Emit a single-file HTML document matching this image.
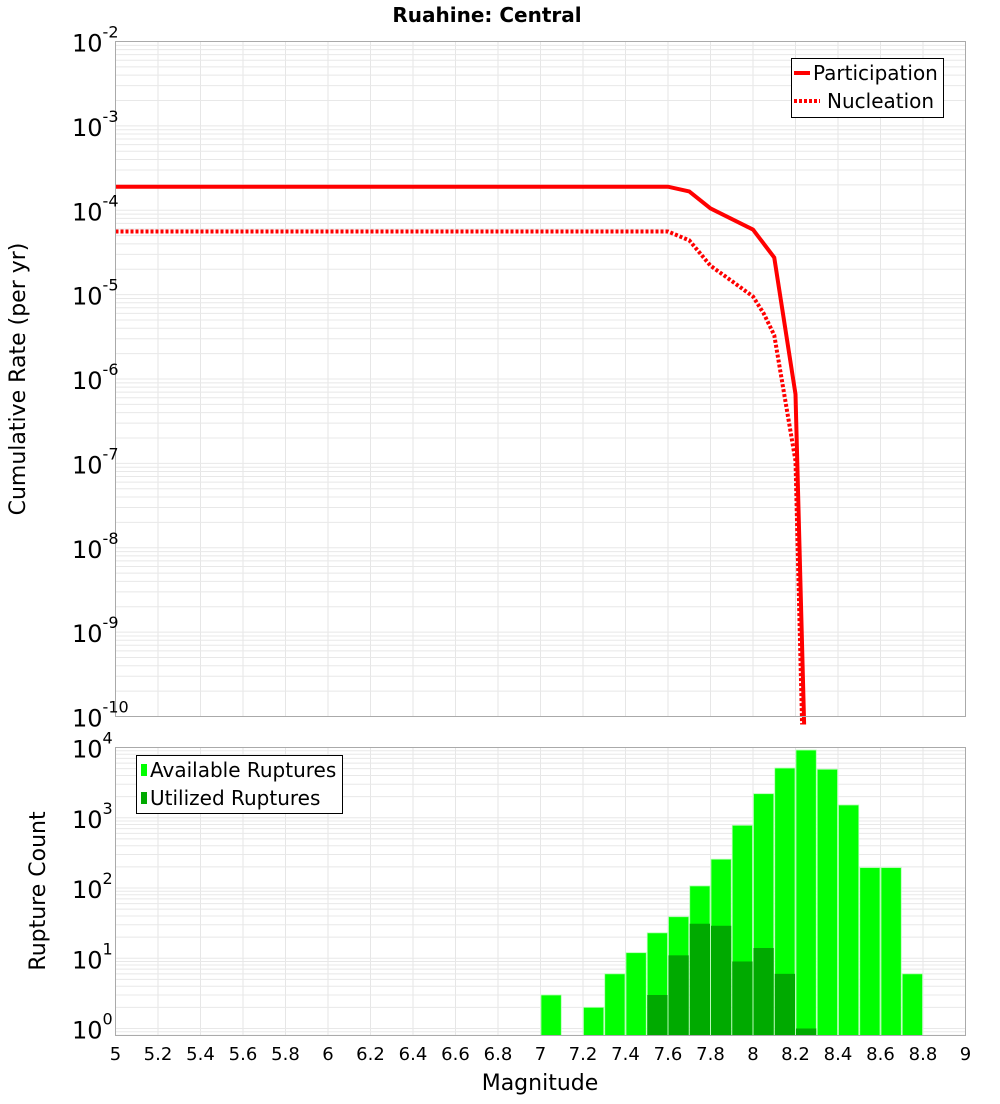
<!DOCTYPE html>
<html><head><meta charset="utf-8"><style>
body{margin:0;background:#fff;font-family:"DejaVu Sans","Liberation Sans",sans-serif}
svg text{font-family:"DejaVu Sans","Liberation Sans",sans-serif}
</style></head><body>
<svg id="c" width="1000" height="1100" xmlns="http://www.w3.org/2000/svg">
<g id="topG"></g>
<g id="botG"></g>
<text x="487" y="22" font-size="20" font-weight="bold" text-anchor="middle">Ruahine: Central</text>
<text transform="translate(25,379) rotate(-90)" font-size="22" text-anchor="middle">Cumulative Rate (per yr)</text>
<text transform="translate(45,891) rotate(-90)" font-size="22" text-anchor="middle">Rupture Count</text>
<text x="540" y="1090" font-size="22" text-anchor="middle">Magnitude</text>
<g>
<rect x="791.5" y="58.5" width="152" height="59" fill="#fff" stroke="#000"/>
<line x1="794" y1="73" x2="810" y2="73" stroke="#f00" stroke-width="4"/>
<text x="813" y="80" font-size="20">Participation</text>
<line x1="794" y1="101" x2="820" y2="101" stroke="#f00" stroke-width="4" stroke-dasharray="3,2"/>
<text x="827" y="108" font-size="20">Nucleation</text>
</g>
<g>
<rect x="136.5" y="755.5" width="206" height="58" fill="#fff" stroke="#000"/>
<rect x="141" y="764" width="6" height="12" fill="#00ff00"/>
<text x="150" y="777" font-size="20">Available Ruptures</text>
<rect x="141" y="792" width="6" height="12" fill="#00aa00"/>
<text x="150" y="805" font-size="20">Utilized Ruptures</text>
</g>
</svg>
<script>
const partMag=[5,7.6,7.7,7.8,8.0,8.1,8.2,8.25];
const partRate=[1.9e-4,1.9e-4,1.67e-4,1.05e-4,5.9e-5,2.75e-5,6.6e-7,1e-11];
const nuclMag=[5,7.6,7.7,7.8,7.9,8.0,8.05,8.1,8.2,8.24];
const nuclRate=[5.6e-5,5.6e-5,4.4e-5,2.2e-5,1.45e-5,9.5e-6,6e-6,3.3e-6,1.07e-7,1e-11];
const binMag=[7.05,7.25,7.35,7.45,7.55,7.65,7.75,7.85,7.95,8.05,8.15,8.25,8.35,8.45,8.55,8.65,8.75];
const availCount=[3,2,6,12,23,39,107,257,780,2200,5100,9200,4900,1520,195,195,6];
const utilMag=[7.55,7.65,7.75,7.85,7.95,8.05,8.15,8.25];
const utilCount=[3,11,31,29,9,14,6,1];
const xTicks=[5,5.2,5.4,5.6,5.8,6,6.2,6.4,6.6,6.8,7,7.2,7.4,7.6,7.8,8,8.2,8.4,8.6,8.8,9];
const topExp=[-2,-3,-4,-5,-6,-7,-8,-9,-10];
const botExp=[4,3,2,1,0];
const NS="http://www.w3.org/2000/svg";
const L=115.5,R=965.5;
const X=m=>L+(m-5)*(R-L)/4;
const T0=41.5,T1=716.5;
const YT=v=>T0+(-2-Math.log10(v))*(T1-T0)/8;
const B0=747.5,B1=1035.5,BD=70.25;
const YB=v=>B0+(4-Math.log10(v))*BD;
function el(p,t,a){const e=document.createElementNS(NS,t);for(const k in a)e.setAttribute(k,a[k]);p.appendChild(e);return e;}
const topG=document.getElementById('topG'),botG=document.getElementById('botG');
function grid(g,y0,y1,Yf,eLo,eHi){
  xTicks.forEach(m=>{const l=el(g,'line',{x1:X(m),x2:X(m),y1:y0,y2:y1,stroke:'#e6e6e6'});
  
  });
  for(let e=eLo;e<=eHi;e++)for(let k=1;k<10;k++){const y=Yf(k*Math.pow(10,e));if(y<y0||y>y1)continue;const l=el(g,'line',{x1:L,x2:R,y1:y,y2:y,stroke:'#e8e8e8'});
  
  }
}
grid(topG,T0,T1,YT,-10,-3);
grid(botG,B0,B1,YB,-1,3);
function frame(g,y0,y1){const r=el(g,'rect',{x:L,y:y0,width:R-L,height:y1-y0,fill:'none',stroke:'#aaa'});

}
const defs=el(document.getElementById('c'),'defs',{});
const cp=el(defs,'clipPath',{id:'tc'});el(cp,'rect',{x:L,y:T0,width:R-L,height:T1-T0+8});
function line(ms,vs,dash,name){const pts=ms.map((m,i)=>X(m)+','+YT(vs[i])).join(' ');const a={points:pts,fill:'none',stroke:'#f00','stroke-width':4,'clip-path':'url(#tc)'};if(dash)a['stroke-dasharray']='3,2';const p=el(topG,'polyline',a);

}
line(nuclMag,nuclRate,true,'nucleation-line');
line(partMag,partRate,false,'participation-line');
frame(topG,T0,T1);
const bw=(R-L)/40;
binMag.forEach((m,i)=>{const y=YB(availCount[i]);const r=el(botG,'rect',{x:X(m)-bw/2+0.5,y:y,width:bw-1,height:B1-y,fill:'#00ff00',stroke:'#b0ffb0','stroke-width':0.8});

});
utilMag.forEach((m,i)=>{const y=YB(utilCount[i]);const r=el(botG,'rect',{x:X(m)-bw/2+0.5,y:y,width:bw-1,height:B1-y,fill:'#00aa00'});

});
frame(botG,B0,B1);
xTicks.forEach(m=>{const t=el(botG,'text',{x:X(m),y:1060,'font-size':18,'text-anchor':'middle'});t.textContent=String(m);

});
function ylab(g,e,y){const t=el(g,'text',{x:72,y:y+10,'font-size':24});


t.textContent='10';const s=el(t,'tspan',{dy:-14,'font-size':16});s.textContent=String(e);}
topExp.forEach(e=>ylab(topG,e,YT(Math.pow(10,e))));
botExp.forEach(e=>ylab(botG,e,YB(Math.pow(10,e))));
</script>
</body></html>
